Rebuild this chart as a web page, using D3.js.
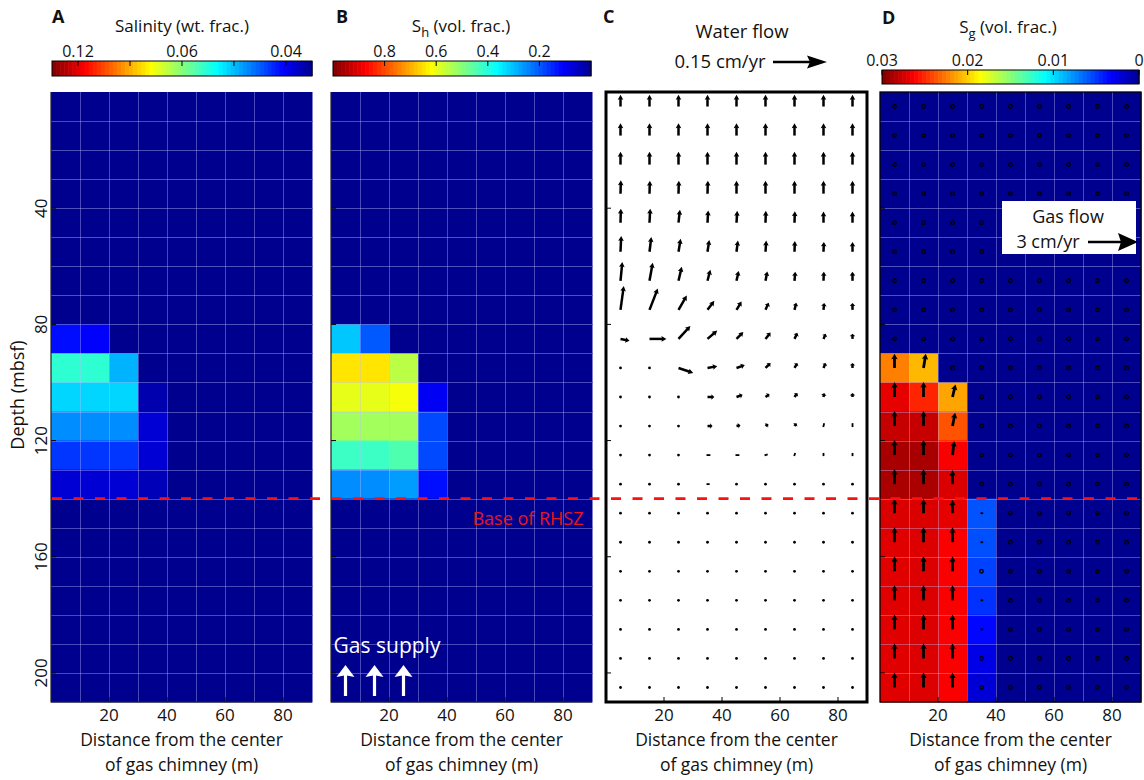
<!DOCTYPE html>
<html>
<head>
<meta charset="utf-8">
<script src="https://cdn.jsdelivr.net/npm/d3@7"></script>
<style>
  body { margin: 0; background: #fff; }
  svg { display: block; }
  text { font-family: "Open Sans", sans-serif; fill: #111; }
</style>
</head>
<body>
<svg id="chart" width="1144" height="780"></svg>
<script>
// ---- grid (cell centres, m) ----
const xCenters = [5, 15, 25, 35, 45, 55, 65, 75, 85];
const depthCenters = [5, 15, 25, 35, 45, 55, 65, 75, 85, 95, 105, 115, 125, 135, 145, 155, 165, 175, 185, 195, 205];

// ---- A: pore-water salinity (wt. frac.) ----
const salinity = [
  [0.035, 0.035, 0.035, 0.035, 0.035, 0.035, 0.035, 0.035, 0.035],
  [0.035, 0.035, 0.035, 0.035, 0.035, 0.035, 0.035, 0.035, 0.035],
  [0.035, 0.035, 0.035, 0.035, 0.035, 0.035, 0.035, 0.035, 0.035],
  [0.035, 0.035, 0.035, 0.035, 0.035, 0.035, 0.035, 0.035, 0.035],
  [0.035, 0.035, 0.035, 0.035, 0.035, 0.035, 0.035, 0.035, 0.035],
  [0.035, 0.035, 0.035, 0.035, 0.035, 0.035, 0.035, 0.035, 0.035],
  [0.035, 0.035, 0.035, 0.035, 0.035, 0.035, 0.035, 0.035, 0.035],
  [0.035, 0.035, 0.035, 0.035, 0.035, 0.035, 0.035, 0.035, 0.035],
  [0.0408, 0.0403, 0.035, 0.035, 0.035, 0.035, 0.035, 0.035, 0.035],
  [0.0539, 0.0539, 0.0475, 0.035, 0.035, 0.035, 0.035, 0.035, 0.035],
  [0.0492, 0.0492, 0.0492, 0.0378, 0.035, 0.035, 0.035, 0.035, 0.035],
  [0.0458, 0.0458, 0.0458, 0.0390, 0.035, 0.035, 0.035, 0.035, 0.035],
  [0.0423, 0.0423, 0.0423, 0.0390, 0.035, 0.035, 0.035, 0.035, 0.035],
  [0.0390, 0.0390, 0.0390, 0.0381, 0.035, 0.035, 0.035, 0.035, 0.035],
  [0.035, 0.035, 0.035, 0.035, 0.035, 0.035, 0.035, 0.035, 0.035],
  [0.035, 0.035, 0.035, 0.035, 0.035, 0.035, 0.035, 0.035, 0.035],
  [0.035, 0.035, 0.035, 0.035, 0.035, 0.035, 0.035, 0.035, 0.035],
  [0.035, 0.035, 0.035, 0.035, 0.035, 0.035, 0.035, 0.035, 0.035],
  [0.035, 0.035, 0.035, 0.035, 0.035, 0.035, 0.035, 0.035, 0.035],
  [0.035, 0.035, 0.035, 0.035, 0.035, 0.035, 0.035, 0.035, 0.035],
  [0.035, 0.035, 0.035, 0.035, 0.035, 0.035, 0.035, 0.035, 0.035]
];

// ---- B: hydrate saturation Sh (vol. frac.) ----
const hydrateSat = [
  [0, 0, 0, 0, 0, 0, 0, 0, 0],
  [0, 0, 0, 0, 0, 0, 0, 0, 0],
  [0, 0, 0, 0, 0, 0, 0, 0, 0],
  [0, 0, 0, 0, 0, 0, 0, 0, 0],
  [0, 0, 0, 0, 0, 0, 0, 0, 0],
  [0, 0, 0, 0, 0, 0, 0, 0, 0],
  [0, 0, 0, 0, 0, 0, 0, 0, 0],
  [0, 0, 0, 0, 0, 0, 0, 0, 0],
  [0.31, 0.20, 0, 0, 0, 0, 0, 0, 0],
  [0.645, 0.645, 0.55, 0, 0, 0, 0, 0, 0],
  [0.595, 0.595, 0.61, 0.10, 0, 0, 0, 0, 0],
  [0.527, 0.527, 0.527, 0.184, 0, 0, 0, 0, 0],
  [0.424, 0.424, 0.444, 0.184, 0, 0, 0, 0, 0],
  [0.252, 0.252, 0.267, 0.125, 0, 0, 0, 0, 0],
  [0, 0, 0, 0, 0, 0, 0, 0, 0],
  [0, 0, 0, 0, 0, 0, 0, 0, 0],
  [0, 0, 0, 0, 0, 0, 0, 0, 0],
  [0, 0, 0, 0, 0, 0, 0, 0, 0],
  [0, 0, 0, 0, 0, 0, 0, 0, 0],
  [0, 0, 0, 0, 0, 0, 0, 0, 0],
  [0, 0, 0, 0, 0, 0, 0, 0, 0]
];

// ---- C: water flux (cm/yr), u = away from chimney, w = upward ----
const waterU = [
  [0, 0, 0, 0, 0, 0, 0, 0, 0],
  [0, 0, 0, 0, 0, 0, 0, 0, 0],
  [0, 0, 0, 0, 0, 0, 0, 0, 0],
  [0.001, 0.001, 0.001, 0.001, 0, 0, 0, 0, 0],
  [0.001, 0.002, 0.004, 0.002, 0.002, 0.001, 0.001, 0, 0],
  [0.002, 0.005, 0.006, 0.005, 0.004, 0.002, 0.001, 0.001, 0],
  [0.005, 0.009, 0.009, 0.008, 0.006, 0.005, 0.002, 0.001, 0],
  [0.009, 0.023, 0.023, 0.019, 0.014, 0.009, 0.005, 0.002, 0],
  [0.025, 0.047, 0.033, 0.027, 0.019, 0.014, 0.008, 0.006, 0],
  [0, 0, 0.041, 0.027, 0.023, 0.014, 0.008, 0.006, 0],
  [0, 0, 0.002, 0.019, 0.017, 0.011, 0.008, 0.002, 0],
  [0, 0, 0, 0.014, 0.011, 0.008, 0.006, 0.002, 0],
  [0, 0, 0, 0.008, 0.008, 0.006, 0.002, 0, 0],
  [0, 0, 0, 0.006, 0.002, 0.002, 0.001, 0, 0],
  [0, 0, 0, 0, 0, 0, 0, 0, 0],
  [0, 0, 0, 0, 0, 0, 0, 0, 0],
  [0, 0, 0, 0, 0, 0, 0, 0, 0],
  [0, 0, 0, 0, 0, 0, 0, 0, 0],
  [0, 0, 0, 0, 0, 0, 0, 0, 0],
  [0, 0, 0, 0, 0, 0, 0, 0, 0],
  [0, 0, 0, 0, 0, 0, 0, 0, 0]
];
const waterW = [
  [0.033, 0.033, 0.033, 0.033, 0.033, 0.033, 0.033, 0.033, 0.033],
  [0.034, 0.034, 0.034, 0.034, 0.034, 0.034, 0.034, 0.034, 0.034],
  [0.036, 0.036, 0.036, 0.036, 0.036, 0.036, 0.036, 0.036, 0.036],
  [0.037, 0.036, 0.036, 0.036, 0.036, 0.036, 0.036, 0.036, 0.036],
  [0.039, 0.039, 0.036, 0.034, 0.033, 0.033, 0.032, 0.031, 0.031],
  [0.044, 0.041, 0.036, 0.033, 0.031, 0.031, 0.030, 0.027, 0.027],
  [0.052, 0.050, 0.039, 0.031, 0.027, 0.026, 0.025, 0.025, 0.025],
  [0.066, 0.059, 0.040, 0.025, 0.023, 0.020, 0.020, 0.019, 0.019],
  [-0.005, 0, 0.036, 0.023, 0.019, 0.018, 0.017, 0.014, 0.014],
  [0, 0, -0.014, 0.005, 0.008, 0.014, 0.014, 0.014, 0.014],
  [0, 0, 0, 0, 0.006, 0.008, 0.011, 0.011, 0.011],
  [0, 0, 0, 0, 0.002, 0.006, 0.008, 0.008, 0.008],
  [0, 0, 0, 0, 0, 0.002, 0.006, 0.006, 0.006],
  [0, 0, 0, 0, 0.001, 0.002, 0.002, 0.002, 0.002],
  [0, 0, 0, 0, 0, 0, 0, 0, 0],
  [0, 0, 0, 0, 0, 0, 0, 0, 0],
  [0, 0, 0, 0, 0, 0, 0, 0, 0],
  [0, 0, 0, 0, 0, 0, 0, 0, 0],
  [0, 0, 0, 0, 0, 0, 0, 0, 0],
  [0, 0, 0, 0, 0, 0, 0, 0, 0],
  [0, 0, 0, 0, 0, 0, 0, 0, 0]
];

// ---- D: gas saturation Sg (vol. frac.) and gas flux (cm/yr) ----
const gasSat = [
  [0, 0, 0, 0, 0, 0, 0, 0, 0],
  [0, 0, 0, 0, 0, 0, 0, 0, 0],
  [0, 0, 0, 0, 0, 0, 0, 0, 0],
  [0, 0, 0, 0, 0, 0, 0, 0, 0],
  [0, 0, 0, 0, 0, 0, 0, 0, 0],
  [0, 0, 0, 0, 0, 0, 0, 0, 0],
  [0, 0, 0, 0, 0, 0, 0, 0, 0],
  [0, 0, 0, 0, 0, 0, 0, 0, 0],
  [0, 0, 0, 0, 0, 0, 0, 0, 0],
  [0.0224, 0.0207, 0, 0, 0, 0, 0, 0, 0],
  [0.0269, 0.0251, 0.0213, 0, 0, 0, 0, 0, 0],
  [0.0279, 0.0279, 0.0237, 0, 0, 0, 0, 0, 0],
  [0.0288, 0.0288, 0.0263, 0, 0, 0, 0, 0, 0],
  [0.0287, 0.0287, 0.0273, 0, 0, 0, 0, 0, 0],
  [0.0273, 0.0273, 0.0269, 0.0058, 0, 0, 0, 0, 0],
  [0.0271, 0.0272, 0.0263, 0.0057, 0, 0, 0, 0, 0],
  [0.0271, 0.0272, 0.0263, 0.0053, 0, 0, 0, 0, 0],
  [0.0271, 0.0272, 0.0263, 0.0048, 0, 0, 0, 0, 0],
  [0.0271, 0.0272, 0.0263, 0.0035, 0, 0, 0, 0, 0],
  [0.0271, 0.0272, 0.0263, 0.0026, 0, 0, 0, 0, 0],
  [0.0271, 0.0272, 0.0263, 0.0021, 0, 0, 0, 0, 0]
];
const gasU = [
  [0, 0, 0, 0, 0, 0, 0, 0, 0],
  [0, 0, 0, 0, 0, 0, 0, 0, 0],
  [0, 0, 0, 0, 0, 0, 0, 0, 0],
  [0, 0, 0, 0, 0, 0, 0, 0, 0],
  [0, 0, 0, 0, 0, 0, 0, 0, 0],
  [0, 0, 0, 0, 0, 0, 0, 0, 0],
  [0, 0, 0, 0, 0, 0, 0, 0, 0],
  [0, 0, 0, 0, 0, 0, 0, 0, 0],
  [0, 0, 0, 0, 0, 0, 0, 0, 0],
  [0, 0.14, 0, 0, 0, 0, 0, 0, 0],
  [0, 0, 0.18, 0, 0, 0, 0, 0, 0],
  [0, 0, 0.16, 0, 0, 0, 0, 0, 0],
  [0, 0, 0.10, 0, 0, 0, 0, 0, 0],
  [0, 0, 0, 0, 0, 0, 0, 0, 0],
  [0, 0, 0, 0.10, 0, 0, 0, 0, 0],
  [0, 0, 0, 0.10, 0, 0, 0, 0, 0],
  [0, 0, 0, 0, 0, 0, 0, 0, 0],
  [0, 0, 0, 0.10, 0, 0, 0, 0, 0],
  [0, 0, 0, 0.10, 0, 0, 0, 0, 0],
  [0, 0, 0, 0, 0, 0, 0, 0, 0],
  [0, 0, 0, 0, 0, 0, 0, 0, 0]
];
const gasW = [
  [0, 0, 0, 0, 0, 0, 0, 0, 0],
  [0, 0, 0, 0, 0, 0, 0, 0, 0],
  [0, 0, 0, 0, 0, 0, 0, 0, 0],
  [0, 0, 0, 0, 0, 0, 0, 0, 0],
  [0, 0, 0, 0, 0, 0, 0, 0, 0],
  [0, 0, 0, 0, 0, 0, 0, 0, 0],
  [0, 0, 0, 0, 0, 0, 0, 0, 0],
  [0, 0, 0, 0, 0, 0, 0, 0, 0],
  [0, 0, 0, 0, 0, 0, 0, 0, 0],
  [0.85, 0.85, 0, 0, 0, 0, 0, 0, 0],
  [0.90, 0.90, 0.75, 0, 0, 0, 0, 0, 0],
  [0.90, 0.90, 0.80, 0, 0, 0, 0, 0, 0],
  [0.90, 0.90, 0.85, 0, 0, 0, 0, 0, 0],
  [0.90, 0.90, 0.85, 0, 0, 0, 0, 0, 0],
  [0.85, 0.85, 0.80, 0, 0, 0, 0, 0, 0],
  [0.90, 0.90, 0.90, 0, 0, 0, 0, 0, 0],
  [0.90, 0.90, 0.90, 0, 0, 0, 0, 0, 0],
  [0.90, 0.90, 0.90, 0, 0, 0, 0, 0, 0],
  [0.90, 0.90, 0.90, 0, 0, 0, 0, 0, 0],
  [0.90, 0.90, 0.90, 0, 0, 0, 0, 0, 0],
  [0.90, 0.90, 0.90, 0, 0, 0, 0, 0, 0]
];

// ---- axes, colour-bar ticks, annotations ----
const depthTicks = [40, 80, 120, 160, 200];
const distanceTicks = [20, 40, 60, 80];
const salinityTicks = [0.12, 0.08, 0.06, 0.048, 0.04];
const salinityTickLabels = ["0.12", "", "0.06", "", "0.04"];
const hydrateTicks = [0.8, 0.6, 0.4, 0.2];
const gasTicks = [0.03, 0.02, 0.01, 0];
const rhszDepth = 140;
const waterRefFlux = 0.15;   // cm/yr
const gasRefFlux = 3;        // cm/yr
const gasSupplyX = [5, 15, 25];

// ---- layout ----
const svg = d3.select("#chart");
const panelX = [51, 331, 606, 880];
const panelW = 261;
const plotTop = 92, plotBottom = 702;
const y = d3.scaleLinear().domain([0, 210]).range([plotTop, plotBottom]);
const xs = panelX.map(L => d3.scaleLinear().domain([0, 90]).range([L, L + panelW]));
const cellHalf = 5;

// matlab-style jet colour map, first/last entries of a 64-step table
function jet(t) {
  t = 1 / 64 + Math.max(0, Math.min(1, t)) * 63 / 64;
  const c = v => Math.round(255 * Math.max(0, Math.min(1, v)));
  return `rgb(${c(1.5 - Math.abs(4 * t - 3))},${c(1.5 - Math.abs(4 * t - 2))},${c(1.5 - Math.abs(4 * t - 1))})`;
}
const salT = d3.scaleLinear().domain([1 / 0.12, 1 / 0.04]).range([0.9, 0.1]);
const shT = d3.scaleLinear().domain([0, 1]).range([0, 1]);
const sgT = d3.scaleLinear().domain([0, 0.03]).range([0, 1]);

// ---- cell fields ----
function drawField(p, field, toT) {
  const g = svg.append("g");
  const x = xs[p];
  field.forEach((row, r) => row.forEach((v, c) => {
    g.append("rect")
      .attr("x", x(xCenters[c] - cellHalf)).attr("y", y(depthCenters[r] - cellHalf))
      .attr("width", x(xCenters[c] + cellHalf) - x(xCenters[c] - cellHalf) + 0.5)
      .attr("height", y(depthCenters[r] + cellHalf) - y(depthCenters[r] - cellHalf) + 0.5)
      .attr("fill", jet(toT(v)));
  }));
  // light grid on top of the cells
  const grid = svg.append("g").attr("stroke", "rgba(190,190,255,0.38)").attr("stroke-width", 1);
  xCenters.slice(1).forEach(xc => {
    const gx = Math.round(x(xc - cellHalf)) + 0.5;
    grid.append("line").attr("x1", gx).attr("x2", gx).attr("y1", plotTop).attr("y2", plotBottom);
  });
  depthCenters.slice(1).forEach(dc => {
    const gy = Math.round(y(dc - cellHalf)) + 0.5;
    grid.append("line").attr("x1", x(0)).attr("x2", x(90)).attr("y1", gy).attr("y2", gy);
  });
}
drawField(0, salinity, s => salT(1 / s));
drawField(1, hydrateSat, v => shT(v));
svg.append("rect").attr("x", xs[2](0)).attr("y", plotTop).attr("width", panelW).attr("height", plotBottom - plotTop).attr("fill", "#fff");
drawField(3, gasSat, v => sgT(v));

// ---- arrows ----
function arrow(g, x0, y0, dx, dy, o) {
  const len = Math.hypot(dx, dy);
  const col = o.color || "#000";
  if (len < o.minLen) {
    if (o.zero === "ring") {
      g.append("circle").attr("cx", x0).attr("cy", y0).attr("r", 1.8)
        .attr("fill", "none").attr("stroke", "#000").attr("stroke-width", 1.3);
    } else {
      g.append("circle").attr("cx", x0).attr("cy", y0).attr("r", 1.4).attr("fill", col);
    }
    return;
  }
  const ux = dx / len, uy = dy / len;
  if (len < 3) {
    g.append("line").attr("x1", x0 - ux).attr("y1", y0 - uy).attr("x2", x0 + dx).attr("y2", y0 + dy)
      .attr("stroke", col).attr("stroke-width", 1.8);
    return;
  }
  const hl = Math.max(Math.min(o.headLen, len * 0.45), 2.5);
  const hw = o.headW;
  const tx = x0 + dx, ty = y0 + dy;
  const bx = tx - ux * hl, by = ty - uy * hl;
  g.append("line").attr("x1", x0).attr("y1", y0).attr("x2", tx - ux * hl * 0.6).attr("y2", ty - uy * hl * 0.6)
    .attr("stroke", col).attr("stroke-width", o.width);
  g.append("path")
    .attr("d", `M${tx},${ty}L${bx - uy * hw},${by + ux * hw}L${bx + ux * hl * 0.15},${by + uy * hl * 0.15}L${bx + uy * hw},${by - ux * hw}Z`)
    .attr("fill", col);
}

// pixel length of the reference arrows sets the quiver scale
const waterLen = d3.scaleLinear().domain([0, waterRefFlux]).range([0, 54]);
const gasLen = d3.scaleLinear().domain([0, gasRefFlux]).range([0, 50]);

const gC = svg.append("g");
depthCenters.forEach((d, r) => xCenters.forEach((xc, c) => {
  arrow(gC, xs[2](xc), y(d), waterLen(waterU[r][c]), -waterLen(waterW[r][c]),
    { minLen: 2, headLen: 5, headW: 2.8, width: 2.5 });
}));
const gD = svg.append("g");
depthCenters.forEach((d, r) => xCenters.forEach((xc, c) => {
  arrow(gD, xs[3](xc), y(d), gasLen(gasU[r][c]), -gasLen(gasW[r][c]),
    { minLen: 1, headLen: 5.5, headW: 3.2, width: 2.8, zero: "ring" });
}));

// ---- axes (ticks inward) ----
function axes(p, box, thick) {
  const x = xs[p];
  const g = svg.append("g").attr("stroke", "#000");
  depthTicks.forEach(d => g.append("line").attr("x1", x(0)).attr("x2", x(0) + 5).attr("y1", y(d)).attr("y2", y(d)).attr("stroke-width", 1));
  distanceTicks.forEach(v => g.append("line").attr("x1", x(v)).attr("x2", x(v)).attr("y1", plotBottom).attr("y2", plotBottom - 5).attr("stroke-width", 1));
  if (box) {
    g.append("rect").attr("x", x(0)).attr("y", plotTop).attr("width", panelW).attr("height", plotBottom - plotTop)
      .attr("fill", "none").attr("stroke-width", thick);
  } else {
    g.append("path").attr("d", `M${x(0)},${plotTop}V${plotBottom}H${x(90)}`).attr("fill", "none").attr("stroke", "#222").attr("stroke-width", 1.2);
  }
  const t = svg.append("g").attr("font-size", 17).attr("text-anchor", "middle");
  distanceTicks.forEach(v => t.append("text").attr("x", x(v)).attr("y", 721).text(v));
  const lab = svg.append("g").attr("font-size", 17.5).attr("text-anchor", "middle");
  lab.append("text").attr("x", x(45)).attr("y", 746).text("Distance from the center");
  lab.append("text").attr("x", x(45)).attr("y", 770.5).text("of gas chimney (m)");
}
axes(0, false, 1);
axes(1, false, 1);
axes(2, true, 3);
axes(3, true, 1.3);

// depth labels on the first panel
const yl = svg.append("g").attr("font-size", 17).attr("text-anchor", "middle");
depthTicks.forEach(d => yl.append("text").attr("transform", `translate(47,${y(d)}) rotate(-90)`).text(d));
svg.append("text").attr("transform", `translate(24,${395}) rotate(-90)`).attr("text-anchor", "middle")
  .attr("font-size", 18).text("Depth (mbsf)");

// ---- colour bars ----
function colorBar(left, width, top, height, toT, ticks, labels, labelY) {
  const g = svg.append("g");
  const n = 64;
  for (let k = 0; k < n; k++) {
    g.append("rect").attr("x", left + k * width / n).attr("y", top).attr("width", width / n + 0.6).attr("height", height)
      .attr("fill", jet(1 - (k + 0.5) / n));
  }
  g.append("rect").attr("x", left).attr("y", top).attr("width", width).attr("height", height)
    .attr("fill", "none").attr("stroke", "#000").attr("stroke-width", 1);
  const pos = v => left + (1 - toT(v)) * width;
  ticks.forEach((v, i) => {
    g.append("line").attr("x1", pos(v)).attr("x2", pos(v)).attr("y1", top).attr("y2", top + 5).attr("stroke", "#000");
    if (labels[i]) g.append("text").attr("x", pos(v)).attr("y", labelY).attr("text-anchor", "middle").attr("font-size", 16).text(labels[i]);
  });
}
colorBar(52, 260, 61, 15, s => salT(1 / s), salinityTicks, salinityTickLabels, 57);
colorBar(333, 258, 61, 15, v => shT(v), hydrateTicks, hydrateTicks.map(String), 57);
colorBar(882, 257, 70, 14, v => sgT(v), gasTicks, gasTicks.map(String), 66);

// ---- titles ----
const titles = svg.append("g").attr("font-size", 17).attr("text-anchor", "middle");
titles.append("text").attr("x", 182).attr("y", 32).text("Salinity (wt. frac.)");
const sh = titles.append("text").attr("x", 461).attr("y", 32);
sh.append("tspan").text("S");
sh.append("tspan").attr("dy", 5).attr("font-size", 13).text("h");
sh.append("tspan").attr("dy", -5).text(" (vol. frac.)");
const sg = titles.append("text").attr("x", 1008).attr("y", 33);
sg.append("tspan").text("S");
sg.append("tspan").attr("dy", 5).attr("font-size", 13).text("g");
sg.append("tspan").attr("dy", -5).text(" (vol. frac.)");
titles.append("text").attr("x", 742).attr("y", 38).attr("font-size", 18.5).text("Water flow");

const letters = svg.append("g").attr("font-size", 18).attr("font-weight", "bold");
[["A", 52, 23], ["B", 336, 23], ["C", 603, 23], ["D", 882, 24]].forEach(([s, lx, ly]) =>
  letters.append("text").attr("x", lx).attr("y", ly).text(s));

// water-flow reference arrow
svg.append("text").attr("x", 720).attr("y", 68).attr("text-anchor", "middle").attr("font-size", 18.5).text(`${waterRefFlux} cm/yr`);
const refW = svg.append("g");
arrow(refW, 773, 62, waterLen(waterRefFlux), 0, { minLen: 1, headLen: 20, headW: 6.5, width: 2.4 });

// gas-flow legend box
svg.append("rect").attr("x", 1002).attr("y", 201).attr("width", 134).attr("height", 53).attr("fill", "#fff");
svg.append("text").attr("x", 1068).attr("y", 223).attr("text-anchor", "middle").attr("font-size", 18).text("Gas flow");
svg.append("text").attr("x", 1048).attr("y", 248).attr("text-anchor", "middle").attr("font-size", 18).text(`${gasRefFlux} cm/yr`);
const refG = svg.append("g");
arrow(refG, 1088, 242, gasLen(gasRefFlux), 0, { minLen: 1, headLen: 20, headW: 9, width: 2.4 });

// ---- base of RHSZ ----
svg.append("line").attr("x1", 52).attr("x2", 1144).attr("y1", y(rhszDepth)).attr("y2", y(rhszDepth))
  .attr("stroke", "#ff1010").attr("stroke-width", 2.8).attr("stroke-dasharray", "10,11.5");
svg.append("text").attr("x", 528).attr("y", 525).attr("text-anchor", "middle").attr("font-size", 18)
  .style("fill", "#e8151c").text("Base of RHSZ");

// ---- gas supply arrows (panel B) ----
svg.append("text").attr("x", 387).attr("y", 653).attr("text-anchor", "middle").attr("font-size", 21)
  .style("fill", "#fff").text("Gas supply");
const gs = svg.append("g");
gasSupplyX.forEach(v => arrow(gs, xs[1](v), 696, 0, -31, { minLen: 1, headLen: 12, headW: 9, width: 3.2, color: "#fff" }));
</script>
</body>
</html>
